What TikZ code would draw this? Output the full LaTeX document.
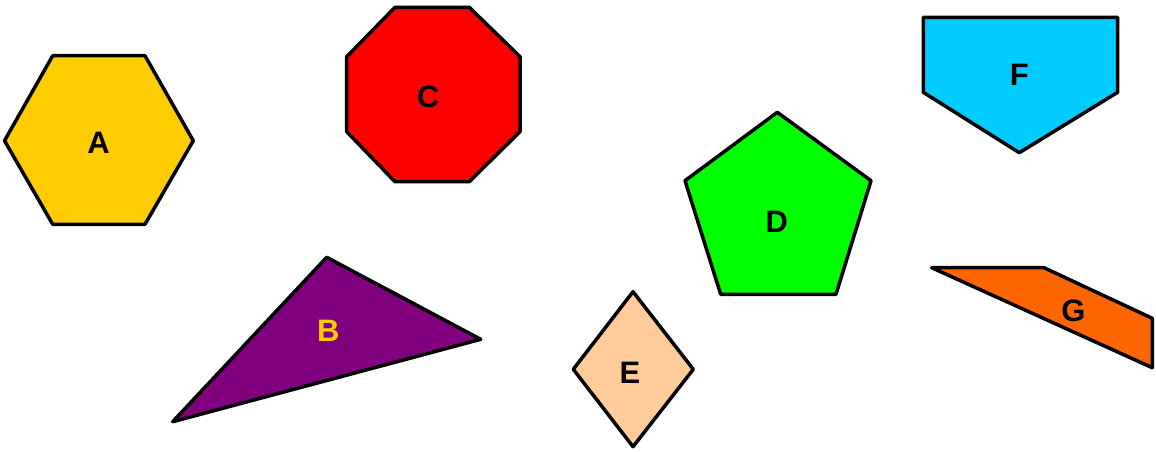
\documentclass[tikz,border=0pt]{standalone}
\usepackage{fontspec}
\setmainfont{Liberation Sans}
\definecolor{cA}{HTML}{FFCC00}
\definecolor{cB}{HTML}{800080}
\definecolor{cC}{HTML}{FF0000}
\definecolor{cD}{HTML}{00FF00}
\definecolor{cE}{HTML}{FFCC99}
\definecolor{cF}{HTML}{00CCFF}
\definecolor{cG}{HTML}{FF6600}
\tikzset{
  shapeline/.style={draw=black, line width=3.5pt, line join=round},
  lbl/.style={font=\bfseries\fontsize{31}{31}\selectfont, inner sep=0pt, anchor=center},
}
\begin{document}
\begin{tikzpicture}[x=1pt,y=-1pt]
\useasboundingbox (0,0) rectangle (1156,451);
% A hexagon
\draw[shapeline, fill=cA] (4.5,140.7) -- (52.7,55.7) -- (145,55.7) -- (193.3,140.7) -- (145,224.3) -- (52.7,224.3) -- cycle;
\node[lbl] (A) at (98.5,143) {A};
% C octagon
\draw[shapeline, fill=cC] (395,7.3) -- (469.3,7.3) -- (520,56.7) -- (520,131.7) -- (469.3,181.7) -- (395,181.7) -- (346.7,131.7) -- (346.7,56.7) -- cycle;
\node[lbl] (C) at (428.3,97.3) {C};
% B triangle
\draw[shapeline, fill=cB] (326.7,257.3) -- (480.7,339.3) -- (172.7,421.7) -- cycle;
\node[lbl, text=cA] (B) at (328.3,331) {B};
% E diamond
\draw[shapeline, fill=cE] (633,291.7) -- (693.3,369.3) -- (633,446.7) -- (573.3,369.3) -- cycle;
\node[lbl] (E) at (630,373.3) {E};
% D pentagon
\draw[shapeline, fill=cD] (777.3,112.3) -- (871,180.7) -- (836,294.3) -- (720.7,294.3) -- (685,180.7) -- cycle;
\node[lbl] (D) at (776.7,221.7) {D};
% F
\draw[shapeline, fill=cF] (923.3,17.3) -- (1117.7,17.3) -- (1117.7,92.3) -- (1019.3,152.7) -- (923.3,92.3) -- cycle;
\node[lbl] (F) at (1019.3,74.5) {F};
% G
\draw[shapeline, fill=cG] (931.7,267.7) -- (1044,267.7) -- (1152.3,318.3) -- (1152.3,367.7) -- cycle;
\node[lbl] (G) at (1073.3,311) {G};
\end{tikzpicture}
\end{document}
